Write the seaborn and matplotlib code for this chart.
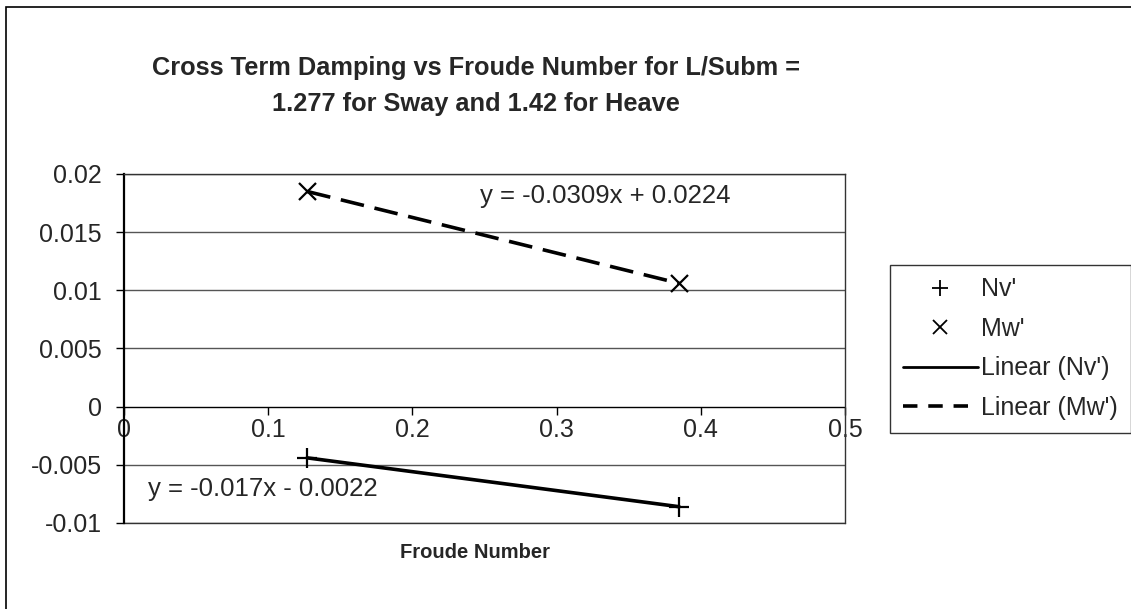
import numpy as np
import pandas as pd
import matplotlib
matplotlib.use("Agg")
import matplotlib.pyplot as plt
from matplotlib.lines import Line2D
from matplotlib.patches import Rectangle
import seaborn as sns

# ---- data ----
froude = [0.127, 0.385]
nv_vals = [-0.0044, -0.0086]
mw_vals = [0.0185, 0.0106]
series_names = ["Nv'", "Mw'"]
x_ticks = [0, 0.1, 0.2, 0.3, 0.4, 0.5]
y_ticks = [-0.01, -0.005, 0, 0.005, 0.01, 0.015, 0.02]
x_tick_labels = ["0", "0.1", "0.2", "0.3", "0.4", "0.5"]
y_tick_labels = ["-0.01", "-0.005", "0", "0.005", "0.01", "0.015", "0.02"]
eq_nv = "y = -0.017x - 0.0022"
eq_mw = "y = -0.0309x + 0.0224"
title = "Cross Term Damping vs Froude Number for L/Subm =\n1.277 for Sway and 1.42 for Heave"
xlabel = "Froude Number"

sns.set_theme(style="white")
plt.rcParams['font.family'] = ['Liberation Sans', 'DejaVu Sans']

# linear trendlines (least squares through the points)
fit_rows = []
for name, vals in zip(series_names, [nv_vals, mw_vals]):
    m, b = np.polyfit(froude, vals, 1)
    for xv in [min(froude), max(froude)]:
        fit_rows.append({"Froude": xv, "Value": m * xv + b, "Series": "Linear (" + name + ")"})
fit_df = pd.DataFrame(fit_rows)

W, H = 1131, 609
fig = plt.figure(figsize=(W / 100, H / 100), dpi=100)
fig.patch.set_facecolor("white")
ax = fig.add_axes([124 / W, 1 - 523 / H, (845 - 124) / W, (523 - 174) / H])

# outer chart border
fig.patches.append(Rectangle((6 / W, -0.05), 1.2, 1 - 7 / H + 0.05, transform=fig.transFigure,
                             fill=False, edgecolor="black", linewidth=1.2))

# gridlines
for yv in y_ticks:
    ax.axhline(yv, color="#555555" if yv != 0 else "black", lw=1.0, zorder=0)

sns.lineplot(data=fit_df[fit_df.Series == "Linear (Nv')"], x="Froude", y="Value",
             color="black", lw=2.6, ax=ax, legend=False)
sns.lineplot(data=fit_df[fit_df.Series == "Linear (Mw')"], x="Froude", y="Value",
             color="black", lw=2.6, ax=ax, legend=False)
ax.lines[-1].set_dashes((6.6, 3.0))

sns.scatterplot(x=froude, y=nv_vals, marker="+", s=200, color="black", linewidth=1.6,
                ax=ax, zorder=5)
sns.scatterplot(x=froude, y=mw_vals, marker="x", s=150, color="black", linewidth=1.6,
                ax=ax, zorder=5)

ax.set_xlim(0, 0.5)
ax.set_ylim(-0.01, 0.02)
ax.set_yticks(y_ticks)
ax.set_yticklabels(y_tick_labels)
ax.set_xticks(x_ticks)
ax.set_xticklabels(x_tick_labels)
ax.set_xlabel("")
ax.set_ylabel("")

ax.spines["bottom"].set_position(("data", 0))
ax.spines["bottom"].set_visible(False)
for s in ["top", "right"]:
    ax.spines[s].set_color("#333333")
    ax.spines[s].set_linewidth(1.0)
ax.spines["left"].set_color("black")
ax.spines["left"].set_linewidth(1.6)
ax.plot([0, 0.5], [-0.01, -0.01], color="#333333", lw=1.0, clip_on=False, zorder=1)

ax.tick_params(axis="x", direction="out", length=6, width=1, color="black",
               labelsize=18, pad=2, bottom=True)
ax.tick_params(axis="y", direction="out", length=6, width=1, color="black",
               labelsize=18, pad=10, left=True)

ax.text(0.247, 0.0181, eq_mw, fontsize=18.5, va="center", ha="left")
ax.text(0.0165, -0.0071, eq_nv, fontsize=18.5, va="center", ha="left")

fig.text(476 / W, 1 - 86 / H, title, ha="center", va="center", fontsize=18.3,
         fontweight="bold", linespacing=1.65)
fig.text(475 / W, 1 - 552 / H, xlabel, ha="center", va="center", fontsize=14.5,
         fontweight="bold")

handles = [
    Line2D([], [], ls="none", marker="+", color="black", markersize=12, markeredgewidth=1.3),
    Line2D([], [], ls="none", marker="x", color="black", markersize=10, markeredgewidth=1.3),
    Line2D([], [], color="black", lw=2),
    Line2D([], [], color="black", lw=2.6, dashes=(4, 3)),
]
labels = ["Nv'", "Mw'", "Linear (Nv')", "Linear (Mw')"]
leg = fig.legend(handles, labels, loc="upper left", bbox_to_anchor=(890 / W, 1 - 265 / H),
                 bbox_transform=fig.transFigure, fontsize=18, frameon=True, fancybox=False,
                 edgecolor="black", handlelength=3.0, handletextpad=0.15, labelspacing=0.62,
                 borderpad=0.5, borderaxespad=0)
leg.get_frame().set_linewidth(1.0)

fig.savefig("out.png", dpi=100, facecolor="white")
